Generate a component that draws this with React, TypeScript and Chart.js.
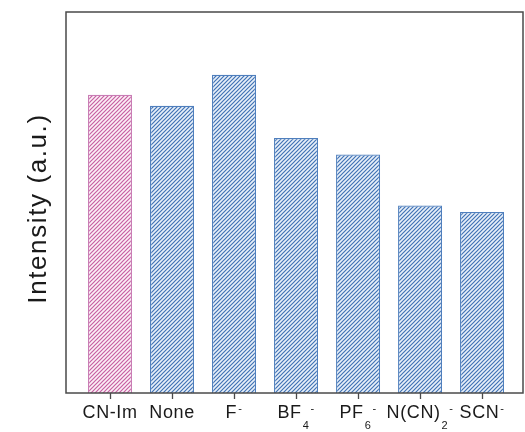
import React, { useEffect, useRef } from "react";
import { Chart, registerables } from "chart.js";

Chart.register(...registerables);

// ---- data ----
const categories = ["CN-Im", "None", "F", "BF", "PF", "N(CN)", "SCN"];
const labelSubs = ["", "", "", "4", "6", "2", ""];
const labelSups = ["", "", "-", "-", "-", "-", "-"];
const intensity = [78.3, 75.4, 83.5, 66.9, 62.6, 49.2, 47.5];
const barKinds = ["pink", "blue", "blue", "blue", "blue", "blue", "blue"];
const yTitle = "Intensity (a.u.)";

const FONT = '"Liberation Sans", Arial, Helvetica, sans-serif';

function makePattern(stripe: string, bg: string): CanvasPattern | string {
  const c = document.createElement("canvas");
  c.width = 4;
  c.height = 4;
  const ctx = c.getContext("2d");
  if (!ctx) return stripe;
  ctx.fillStyle = bg;
  ctx.fillRect(0, 0, 4, 4);
  ctx.strokeStyle = stripe;
  ctx.lineWidth = 1.2;
  ctx.beginPath();
  ctx.moveTo(-1, 5);
  ctx.lineTo(5, -1);
  ctx.moveTo(-1, 1);
  ctx.lineTo(1, -1);
  ctx.moveTo(3, 5);
  ctx.lineTo(5, 3);
  ctx.stroke();
  const p = ctx.createPattern(c, "repeat");
  return p || stripe;
}

const framePlugin = {
  id: "frameAndLabels",
  afterDraw(chart: any) {
    const { ctx, chartArea } = chart;
    const xs = chart.scales.x;
    ctx.save();
    // frame
    ctx.strokeStyle = "#4a4a4a";
    ctx.lineWidth = 1.5;
    ctx.strokeRect(chartArea.left, chartArea.top, chartArea.right - chartArea.left, chartArea.bottom - chartArea.top);
    // tick marks
    ctx.beginPath();
    categories.forEach((_, i) => {
      const x = Math.round(xs.getPixelForValue(i + 1)) + 0.5;
      ctx.moveTo(x, chartArea.bottom);
      ctx.lineTo(x, chartArea.bottom + 6);
    });
    ctx.lineWidth = 1.3;
    ctx.stroke();
    // y title
    ctx.save();
    ctx.letterSpacing = "1.6px";
    ctx.font = `26px ${FONT}`;
    ctx.fillStyle = "#1a1a1a";
    ctx.textAlign = "center";
    ctx.textBaseline = "middle";
    ctx.translate(39, (chartArea.top + chartArea.bottom) / 2 + 6);
    ctx.rotate(-Math.PI / 2);
    ctx.fillText(yTitle, 0, 0);
    ctx.restore();
    // labels with sub/superscripts
    ctx.letterSpacing = "0.6px";
    const baseFont = `18px ${FONT}`;
    const smallFont = `11px ${FONT}`;
    ctx.fillStyle = "#1a1a1a";
    ctx.textBaseline = "alphabetic";
    ctx.textAlign = "left";
    const yb = chartArea.bottom + 25;
    categories.forEach((lab, i) => {
      const x = xs.getPixelForValue(i + 1);
      ctx.font = baseFont;
      const wb = ctx.measureText(lab).width;
      ctx.font = smallFont;
      const ws = labelSubs[i] ? ctx.measureText(labelSubs[i]).width + 1 : 0;
      const wp = labelSups[i] ? ctx.measureText(labelSups[i]).width + 1 : 0;
      const total = wb + ws + wp;
      let cx = x - total / 2;
      ctx.font = baseFont;
      ctx.fillText(lab, cx, yb);
      cx += wb + 1;
      ctx.font = smallFont;
      if (labelSubs[i]) {
        ctx.fillText(labelSubs[i], cx, yb + 11);
        cx += ws;
      }
      if (labelSups[i]) {
        ctx.fillText(labelSups[i], cx, yb - 6);
      }
    });
    ctx.restore();
  },
};

export default function App() {
  const ref = useRef<HTMLCanvasElement | null>(null);
  useEffect(() => {
    if (!ref.current) return;
    const pink = makePattern("#c65fa2", "#fcf0f7");
    const blue = makePattern("#4072b4", "#e8f0f9");
    const fills = barKinds.map((k) => (k === "pink" ? pink : blue));
    const borders = barKinds.map((k) => (k === "pink" ? "#c97db5" : "#4f7fbd"));
    const chart = new Chart(ref.current, {
      type: "bar",
      data: {
        datasets: [
          {
            data: intensity.map((v, i) => ({ x: i + 1, y: v })),
            backgroundColor: fills as any,
            borderColor: borders,
            borderWidth: 1.2,
            categoryPercentage: 0.71,
            barPercentage: 1,
          },
        ],
      },
      options: {
        responsive: false,
        maintainAspectRatio: false,
        animation: false,
        devicePixelRatio: 1,
        layout: { padding: { left: 66, top: 12, right: 2, bottom: 39 } },
        plugins: { legend: { display: false }, tooltip: { enabled: false } },
        scales: {
          x: {
            type: "linear",
            display: false,
            offset: false,
            min: 0.29,
            max: 7.66,
            afterBuildTicks: (scale: any) => {
              scale.ticks = categories.map((_, i) => ({ value: i + 1 }));
            },
            grid: { offset: false },
          },
          y: {
            display: false,
            min: 0,
            max: 100,
          },
        },
      },
      plugins: [framePlugin],
    });
    return () => chart.destroy();
  }, []);
  return (
    <div style={{ position: "absolute", left: 0, top: 0, width: 525, height: 432, background: "#fff" }}>
      <canvas ref={ref} width={525} height={432} style={{ display: "block" }} />
    </div>
  );
}
